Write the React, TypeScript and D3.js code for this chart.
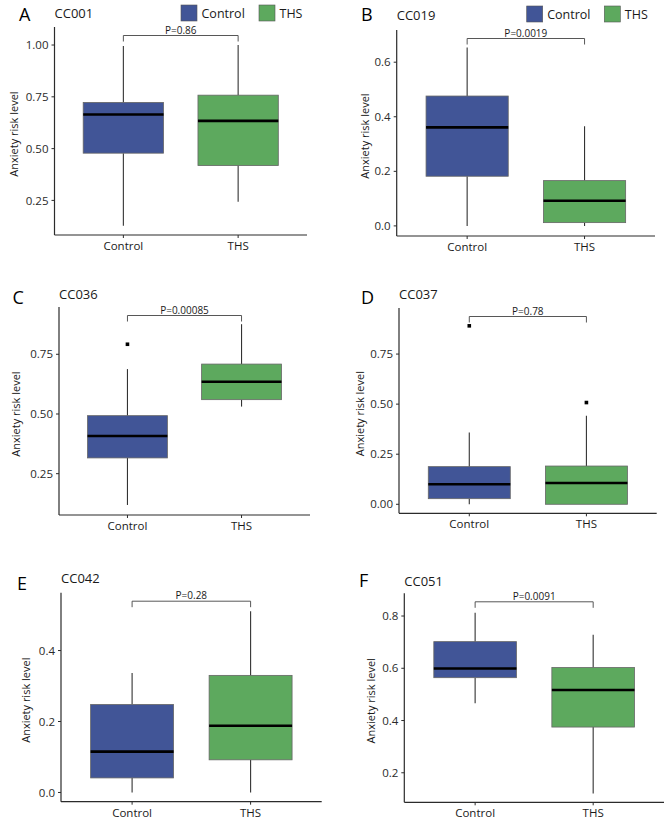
import React from "react";
import * as d3 from "d3";

// ---------- data ----------
const groups = ["Control", "THS"];
const panelLetters = ["A", "B", "C", "D", "E", "F"];
const panelTitles = ["CC001", "CC019", "CC036", "CC037", "CC042", "CC051"];
const pValueLabels = ["P=0.86", "P=0.0019", "P=0.00085", "P=0.78", "P=0.28", "P=0.0091"];
const yLabel = "Anxiety risk level";

// [min, q1, median, q3, max]
const controlStats = [
  [0.128, 0.478, 0.665, 0.723, 0.995],
  [0.0, 0.182, 0.361, 0.476, 0.654],
  [0.119, 0.316, 0.408, 0.493, 0.688],
  [0.0, 0.028, 0.1, 0.188, 0.359],
  [0.0, 0.041, 0.115, 0.248, 0.337],
  [0.466, 0.564, 0.599, 0.702, 0.813],
];
const thsStats = [
  [0.244, 0.418, 0.634, 0.758, 1.0],
  [0.0, 0.012, 0.092, 0.166, 0.365],
  [0.531, 0.56, 0.635, 0.709, 0.876],
  [0.0, 0.0, 0.106, 0.191, 0.442],
  [0.0, 0.092, 0.188, 0.33, 0.511],
  [0.121, 0.375, 0.517, 0.603, 0.728],
];
const controlOutliers = [[], [], [0.792], [0.891], [], []];
const thsOutliers = [[], [], [], [0.508], [], []];

const yTicks = [
  [0.25, 0.5, 0.75, 1.0],
  [0, 0.2, 0.4, 0.6],
  [0.25, 0.5, 0.75],
  [0, 0.25, 0.5, 0.75],
  [0, 0.2, 0.4],
  [0.2, 0.4, 0.6, 0.8],
];
const yTickFormats = [".2f", ".1f", ".2f", ".2f", ".1f", ".1f"];
const yDomains = [
  [0.083, 1.087],
  [-0.037, 0.718],
  [0.077, 0.948],
  [-0.045, 0.98],
  [-0.026, 0.563],
  [0.087, 0.887],
];

// ---------- layout ----------
const layout = [
  { left: 54.5, right: 307, top: 27, bottom: 235, lx: 19, ly: 20.5, ty: 17.5, yt: 14, legend: true },
  { left: 396.7, right: 655, top: 30, bottom: 236, lx: 361, ly: 20.5, ty: 20, yt: 365, legend: true },
  { left: 59, right: 310, top: 307, bottom: 515, lx: 12.5, ly: 303.5, ty: 299, yt: 16.5, legend: false },
  { left: 399, right: 656.7, top: 308, bottom: 513.3, lx: 361, ly: 303.5, ty: 299, yt: 360, legend: false },
  { left: 61, right: 321.7, top: 592.7, bottom: 801.7, lx: 17, ly: 589.5, ty: 583, yt: 26.5, legend: false },
  { left: 404.3, right: 664, top: 593.3, bottom: 802.3, lx: 359, ly: 587, ty: 586, yt: 371, legend: false },
];

const COLORS: Record<string, string> = { Control: "#415597", THS: "#5da95e" };
const FONT = "'Open Sans', 'Noto Sans', sans-serif";
const AXIS = "#2b2b2b";

function Panel({ i }: { i: number }) {
  const L = layout[i];
  const x = d3.scalePoint<string>().domain(groups).range([L.left, L.right]).padding(0.6);
  const y = d3.scaleLinear().domain(yDomains[i]).range([L.bottom, L.top]);
  const bw = x.step() * 0.7;
  const fmt = d3.format(yTickFormats[i]);
  const stats = [controlStats[i], thsStats[i]];
  const outs = [controlOutliers[i], thsOutliers[i]];
  const bY = L.top + 8.5;
  const cx0 = x(groups[0])!;
  const cx1 = x(groups[1])!;
  const midY = (L.top + L.bottom) / 2 + 3;
  return (
    <g>
      <text x={L.lx} y={L.ly} fontSize={18} fontWeight={500} fontFamily={FONT} fill="#000">{panelLetters[i]}</text>
      <text x={L.left} y={L.ty} fontSize={13} fontFamily={FONT} fill="#1a1a1a">{panelTitles[i]}</text>
      {L.legend &&
        groups.map((g, k) => {
          const lx0 = i === 0 ? [181, 259][k] : [526.7, 604.3][k];
          const ly0 = i === 0 ? 5 : 6;
          return (
            <g key={g}>
              <rect x={lx0} y={ly0} width={16} height={16} fill={COLORS[g]} stroke="#555" strokeWidth={0.6} />
              <text x={lx0 + 20.5} y={ly0 + 13} fontSize={12.5} fontFamily={FONT} fill="#1a1a1a">{g}</text>
            </g>
          );
        })}
      {/* axes */}
      <line x1={L.left} x2={L.left} y1={L.top} y2={L.bottom} stroke={AXIS} strokeWidth={1.2} />
      <line x1={L.left} x2={L.right} y1={L.bottom} y2={L.bottom} stroke={AXIS} strokeWidth={1.2} />
      {yTicks[i].map((t) => (
        <g key={t}>
          <line x1={L.left - 3} x2={L.left} y1={y(t)} y2={y(t)} stroke={AXIS} strokeWidth={1} />
          <text x={L.left - 6} y={y(t)} dy="0.36em" textAnchor="end" fontSize={11.5} fontFamily={FONT} fill="#2a2a2a">{fmt(t)}</text>
        </g>
      ))}
      {groups.map((g) => (
        <g key={g}>
          <line x1={x(g)} x2={x(g)} y1={L.bottom} y2={L.bottom + 3} stroke={AXIS} strokeWidth={1} />
          <text x={x(g)} y={L.bottom + 15} textAnchor="middle" fontSize={11.5} fontFamily={FONT} fill="#1a1a1a">{g}</text>
        </g>
      ))}
      <text
        transform={`translate(${L.yt + 3.5},${midY}) rotate(-90)`}
        textAnchor="middle"
        fontSize={11}
        fontFamily={FONT}
        fill="#1a1a1a"
      >
        {yLabel}
      </text>
      {/* boxes */}
      {groups.map((g, k) => {
        const [mn, q1, md, q3, mx] = stats[k];
        const cx = x(g)!;
        return (
          <g key={g}>
            <line x1={cx} x2={cx} y1={y(q3)} y2={y(mx)} stroke="#333" strokeWidth={1.1} />
            <line x1={cx} x2={cx} y1={y(q1)} y2={y(mn)} stroke="#333" strokeWidth={1.1} />
            <rect x={cx - bw / 2} y={y(q3)} width={bw} height={y(q1) - y(q3)} fill={COLORS[g]} stroke="#666" strokeWidth={0.8} />
            <line x1={cx - bw / 2} x2={cx + bw / 2} y1={y(md)} y2={y(md)} stroke="#000" strokeWidth={2.6} />
            {outs[k].map((o, j) => (
              <rect key={j} x={cx - 1.8} y={y(o) - 1.8} width={3.6} height={3.6} fill="#000" />
            ))}
          </g>
        );
      })}
      {/* significance bracket */}
      <path d={`M${cx0},${bY + 6}V${bY}H${cx1}V${bY + 6}`} fill="none" stroke="#444" strokeWidth={0.9} />
      <text x={(cx0 + cx1) / 2} y={bY - 2} textAnchor="middle" fontSize={10} fontFamily={FONT} fill="#1a1a1a">{pValueLabels[i]}</text>
    </g>
  );
}

export default function App() {
  return (
    <svg
      width={669}
      height={827}
      style={{ position: "absolute", left: 0, top: 0, background: "#fff" }}
    >
      <rect width={669} height={827} fill="#fff" />
      {panelLetters.map((_, i) => (
        <Panel key={i} i={i} />
      ))}
    </svg>
  );
}
